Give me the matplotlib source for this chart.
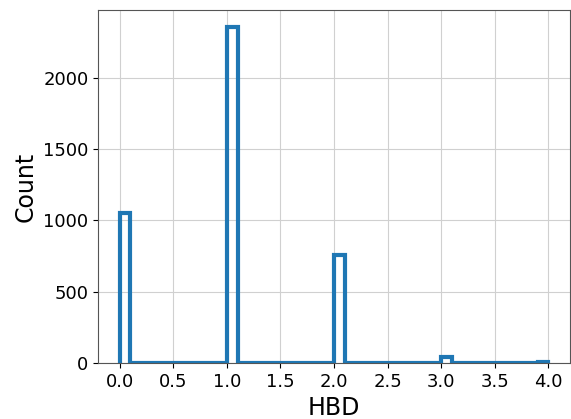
import matplotlib.pyplot as plt
import numpy as np

# HBD values (bin start) and counts
hbd_bins = [0.0, 1.0, 2.0, 3.0, 3.9]
hbd_counts = [1055, 2358, 758, 42, 5]

edges = np.linspace(0, 4, 41)

fig, ax = plt.subplots(figsize=(5.71, 4.19), dpi=100)
ax.hist(np.array(hbd_bins) + 0.05, bins=edges, weights=hbd_counts,
        histtype='step', linewidth=3, color='#1f77b4')
ax.grid(True, color='#d0d0d0', linewidth=0.8)
ax.set_axisbelow(True)
for s in ax.spines.values():
    s.set_color('#555555')
ax.tick_params(labelsize=13)
ax.set_xticks(np.arange(0, 4.01, 0.5))
ax.set_xlabel('HBD', fontsize=17)
ax.set_ylabel('Count', fontsize=17)
fig.subplots_adjust(left=0.172, right=0.998, top=0.976, bottom=0.134)
fig.savefig('out.png')
